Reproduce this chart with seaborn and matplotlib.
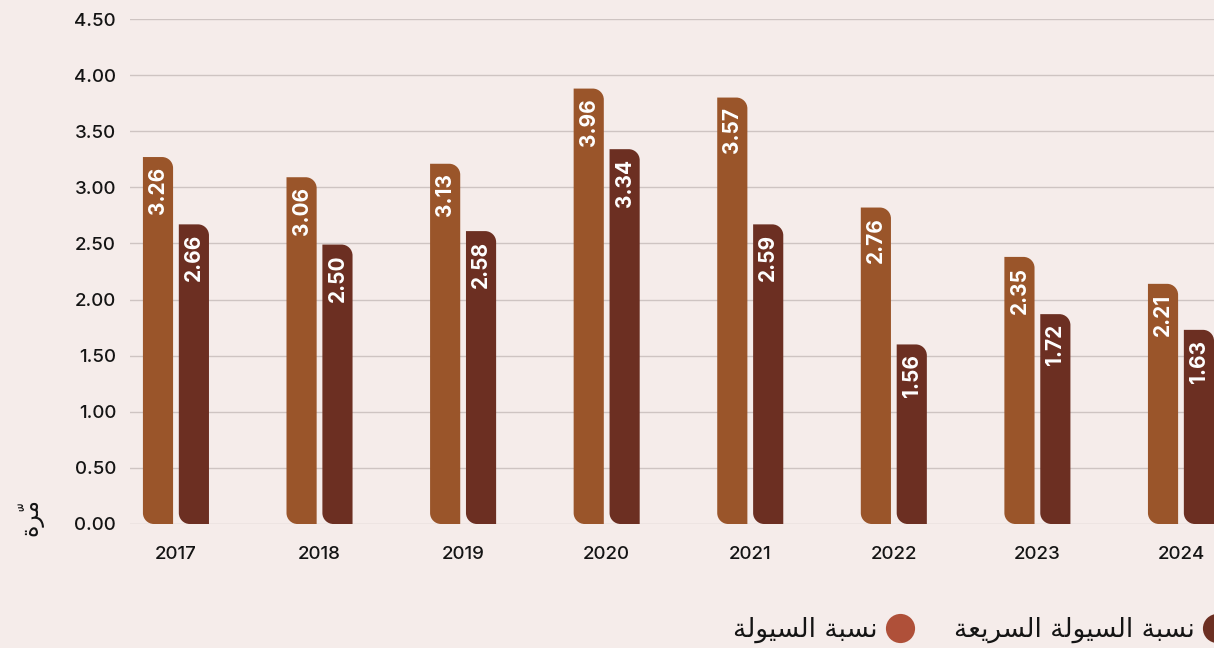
import matplotlib.pyplot as plt
import seaborn as sns
import pandas as pd
from matplotlib.path import Path
from matplotlib.patches import PathPatch
from matplotlib.lines import Line2D

# data
years = ["2017", "2018", "2019", "2020", "2021", "2022", "2023", "2024"]
liquidity = [3.27, 3.09, 3.21, 3.88, 3.80, 2.82, 2.38, 2.14]
quick = [2.67, 2.49, 2.61, 3.34, 2.67, 1.60, 1.87, 1.73]
liquidity_labels = ["3.26", "3.06", "3.13", "3.96", "3.57", "2.76", "2.35", "2.21"]
quick_labels = ["2.66", "2.50", "2.58", "3.34", "2.59", "1.56", "1.72", "1.63"]
yticks = [0, 0.5, 1, 1.5, 2, 2.5, 3, 3.5, 4, 4.5]

# arabic text, shaped by hand (presentation forms) and in visual order
name_liq = "\uFEE7\uFEB4\uFE92\uFE94 \uFE8D\uFEDF\uFEB4\uFEF4\uFEEE\uFEDF\uFE94"[::-1]
name_quick = ("\uFEE7\uFEB4\uFE92\uFE94 \uFE8D\uFEDF\uFEB4\uFEF4\uFEEE\uFEDF\uFE94 "
              "\uFE8D\uFEDF\uFEB4\uFEAE\uFEF3\uFECC\uFE94")[::-1]
unit_label = "\uFE93\uFEAE\u0651\uFEE3"

bg = "#F5ECEA"
c_liq = "#9A552A"
c_quick = "#6C2F22"
ink = "#141414"

df = pd.DataFrame({
    "year": years * 2,
    "value": liquidity + quick,
    "kind": ["liq"] * len(years) + ["quick"] * len(years),
})

fig = plt.figure(figsize=(12.14, 6.48), dpi=100, facecolor=bg)
ax = fig.add_axes([130 / 1214, 124 / 648, 1 - 130 / 1214, 505 / 648])
ax.set_facecolor(bg)

sns.barplot(data=df, x="year", y="value", hue="kind", palette=[c_liq, c_quick],
            saturation=1, width=0.5, gap=0.16, legend=False, ax=ax, zorder=3)

ax.set_ylim(0, 4.5)
ax.set_xlim(-0.32, 7.23)
ax.set_yticks(yticks)
ax.set_yticklabels([f"{t:.2f}" for t in yticks])
ax.grid(axis="y", color="#CEC4C2", linewidth=1, zorder=0)
ax.set_axisbelow(True)
for s in ax.spines.values():
    s.set_visible(False)
ax.tick_params(axis="both", length=0, labelsize=13.5, colors=ink)
ax.tick_params(axis="y", pad=10)
ax.tick_params(axis="x", pad=16)
ax.set_xlabel("")
ax.set_ylabel("")
for lab in ax.get_xticklabels() + ax.get_yticklabels():
    lab.set_family(["Inter", "DejaVu Sans"])
    lab.set_fontweight("medium")

# pixel size of one data unit, to keep the corners round
p0 = ax.transData.transform((0, 0))
p1 = ax.transData.transform((1, 1))
ppx, ppy = p1[0] - p0[0], p1[1] - p0[1]
r = 11
rx, ry = r / ppx, r / ppy
k = 0.5523

bars = list(ax.patches)
all_labels = liquidity_labels + quick_labels
for bar in bars:
    x0 = bar.get_x()
    w = bar.get_width()
    h = bar.get_height()
    x1 = x0 + w
    verts = [
        (x0, ry), (x0, h), (x1 - rx, h),
        (x1 - rx + k * rx, h), (x1, h - ry + k * ry), (x1, h - ry),
        (x1, 0), (x0 + rx, 0),
        (x0 + rx - k * rx, 0), (x0, ry - k * ry), (x0, ry),
        (x0, ry),
    ]
    codes = [Path.MOVETO, Path.LINETO, Path.LINETO,
             Path.CURVE4, Path.CURVE4, Path.CURVE4,
             Path.LINETO, Path.LINETO,
             Path.CURVE4, Path.CURVE4, Path.CURVE4,
             Path.CLOSEPOLY]
    ax.add_patch(PathPatch(Path(verts, codes), facecolor=bar.get_facecolor(),
                           edgecolor="none", zorder=3))
    bar.set_visible(False)

for bar, txt in zip(bars, all_labels):
    cx = bar.get_x() + bar.get_width() / 2
    ax.annotate(txt, (cx, bar.get_height()), xytext=(0, -7),
                textcoords="offset points", rotation=90, ha="center", va="top",
                color="white", fontsize=15, fontweight="bold",
                family=["Inter", "DejaVu Sans"], zorder=4)

fig.text(30 / 1214, 1 - 517 / 648, unit_label, rotation=90, ha="center",
         va="center", fontsize=17, family="DejaVu Sans", color=ink)

handles = [
    Line2D([], [], marker="o", linestyle="none", markersize=21,
           markerfacecolor="#AF5039", markeredgecolor="none"),
    Line2D([], [], marker="o", linestyle="none", markersize=21,
           markerfacecolor=c_quick, markeredgecolor="none"),
]
fig.legend(handles, [name_liq, name_quick], ncol=2, markerfirst=False,
           loc="center right", bbox_to_anchor=(1.034, 18 / 648), frameon=False,
           prop={"family": "DejaVu Sans", "size": 19}, handletextpad=0.3,
           handlelength=1.1, columnspacing=1.5, labelcolor=ink)

fig.savefig("out.png", dpi=100, facecolor=bg)
